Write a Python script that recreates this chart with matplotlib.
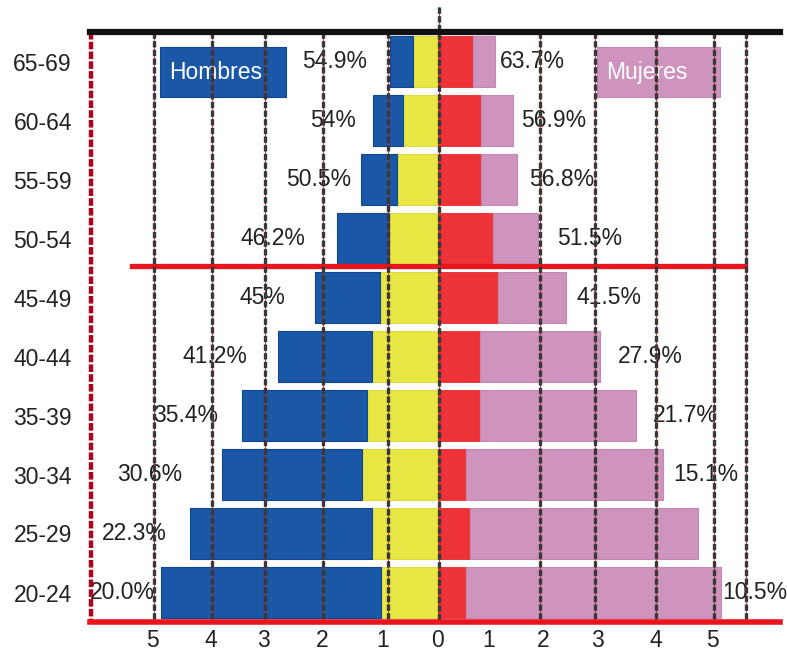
import numpy as np
import matplotlib
matplotlib.use("Agg")
import matplotlib.pyplot as plt
from matplotlib.patches import Rectangle

plt.rcParams['font.family'] = ['Liberation Sans', 'DejaVu Sans']

# grupos de edad (de arriba a abajo)
edades = ['65-69', '60-64', '55-59', '50-54', '45-49',
          '40-44', '35-39', '30-34', '25-29', '20-24']

# hombres: tramo interior (amarillo) y exterior (azul)
hombres_in = np.array([0.45, 0.63, 0.73, 0.88, 1.04, 1.18, 1.27, 1.36, 1.18, 1.02])
hombres_out = np.array([0.41, 0.53, 0.65, 0.92, 1.16, 1.68, 2.23, 2.50, 3.25, 3.93])
# mujeres: tramo interior (rojo) y exterior (rosa)
mujeres_in = np.array([0.63, 0.77, 0.77, 0.98, 1.07, 0.75, 0.75, 0.50, 0.57, 0.50])
mujeres_out = np.array([0.39, 0.57, 0.64, 0.81, 1.22, 2.14, 2.79, 3.52, 4.07, 4.55])

pct_h = ['54.9%', '54%', '50.5%', '46.2%', '45%', '41.2%', '35.4%', '30.6%', '22.3%', '20.0%']
pct_m = ['63.7%', '56.9%', '56.8%', '51.5%', '41.5%', '27.9%', '21.7%', '15.1%', '', '10.5%']

# posiciones de las etiquetas (x)
pos_h = [-1.84, -1.875, -2.13, -2.95, -3.14, -3.98, -4.5, -5.14, -5.43, -5.64]
pos_m = [1.68, 2.07, 2.2, 2.71, 3.05, 3.79, 4.41, 4.78, 4.9, 5.66]

# ticks del eje x y lineas de guia
xticks = [-5.09, -4.05, -3.11, -2.07, -0.98, 0, 0.91, 1.875, 2.84, 3.89, 4.91]
xlabels = ['5', '4', '3', '2', '1', '0', '1', '2', '3', '4', '5']
guias = [-5.07, -4.04, -3.09, -2.05, -0.89, 0.02, 1.82, 2.80, 3.89, 4.93, 5.5]

azul = '#1a57a7'
amarillo = '#e8e642'
rojo = '#ee3338'
rosa = '#cf94be'

fig = plt.figure(figsize=(7.87, 6.55), dpi=100)
ax = fig.add_axes([90/787, 33/655, 690/787, 590/655])

y = np.arange(len(edades))
h = 0.86
ax.barh(y, -hombres_in, height=h, color=amarillo, edgecolor='#d8d530', lw=0.6, zorder=2)
ax.barh(y, -hombres_out, left=-hombres_in, height=h, color=azul, edgecolor='#0f4590', lw=0.8, zorder=2)
ax.barh(y, mujeres_in, height=h, color=rojo, edgecolor='#e02a30', lw=0.6, zorder=2)
ax.barh(y, mujeres_out, left=mujeres_in, height=h, color=rosa, edgecolor='#c488b4', lw=0.8, zorder=2)

for i in range(len(edades)):
    ax.text(pos_h[i], y[i], pct_h[i], ha='center', va='center', fontsize=16.5, color='#222222', zorder=3)
    if pct_m[i]:
        ax.text(pos_m[i], y[i], pct_m[i], ha='center', va='center', fontsize=16.5, color='#222222', zorder=3)

# cajas de leyenda
ax.add_patch(Rectangle((-4.96, -0.24), 2.25, 0.85, facecolor=azul, edgecolor='#0f4590', lw=0.8, zorder=2))
ax.text(-4.8, 0.18, 'Hombres', color='white', fontsize=16.5, va='center', ha='left', zorder=3)
ax.add_patch(Rectangle((2.84, -0.24), 2.2, 0.85, facecolor=rosa, edgecolor='#c488b4', lw=0.8, zorder=2))
ax.text(3.0, 0.18, 'Mujeres', color='white', fontsize=16.5, va='center', ha='left', zorder=3)

# lineas de guia discontinuas
for gx in guias:
    top = -0.92 if gx == 0.02 else -0.5
    ax.plot([gx, gx], [top, 9.5], color='#e02020', lw=0.6, zorder=5, clip_on=False)
    ax.plot([gx, gx], [top, 9.5], color='#383838', lw=2.4, ls=(0, (1.9, 0.7)), zorder=6, clip_on=False)
ax.plot([-6.2, -6.2], [-0.5, 9.5], color='#b0001c', lw=3.2, ls=(0, (1.7, 0.5)), zorder=6, clip_on=False)

# lineas horizontales
ax.axhline(-0.5, color='#111111', lw=4.5, zorder=7, clip_on=False)
ax.axhline(9.5, color='#e8141e', lw=4, zorder=7, clip_on=False)
ax.plot([-5.46, 5.48], [3.46, 3.46], color='#e8141e', lw=3.8, zorder=4)

ax.set_xlim(-6.214, 6.107)
ax.set_ylim(9.5, -0.5)
ax.set_xticks(xticks)
ax.set_xticklabels(xlabels)
ax.set_yticks(y)
ax.set_yticklabels(edades)
ax.tick_params(length=0, labelsize=16.5, labelcolor='#222222')
ax.tick_params(axis='x', pad=5)
ax.tick_params(axis='y', pad=13)
for s in ax.spines.values():
    s.set_visible(False)

fig.savefig('out.png', dpi=100)
